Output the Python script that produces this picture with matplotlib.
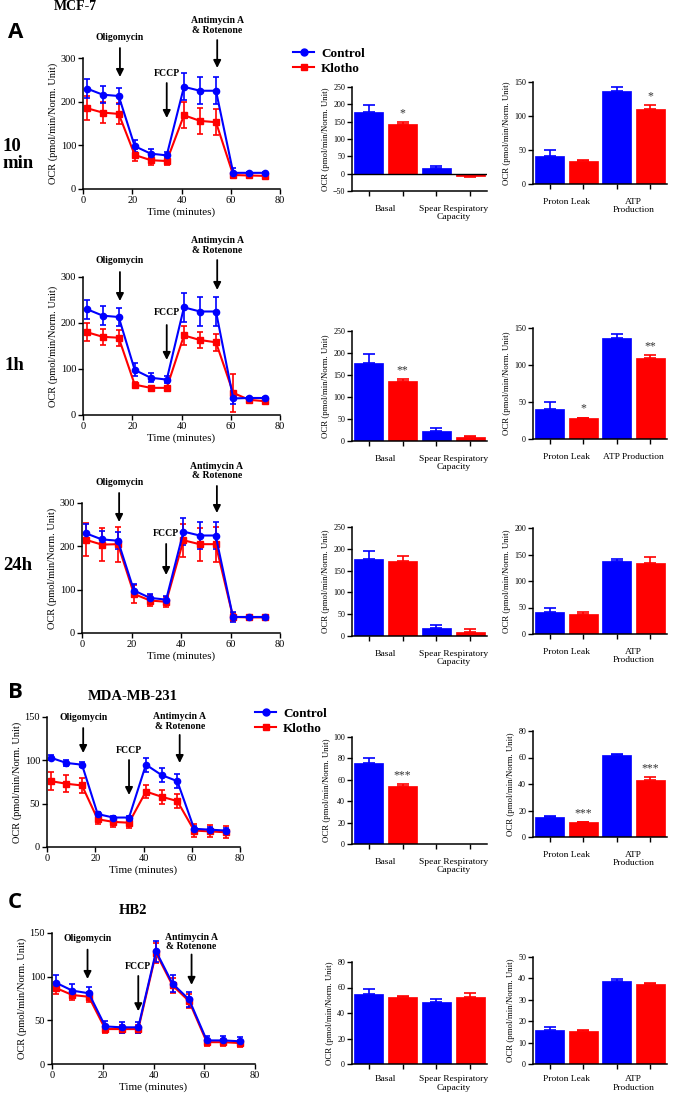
import numpy as np
import matplotlib
matplotlib.use("Agg")
import matplotlib.pyplot as plt
from matplotlib.lines import Line2D

plt.rcParams['font.family'] = ['Liberation Serif', 'DejaVu Serif']

W, H = 685, 1099

# ---- data ----
times = [1.6, 8, 14.5, 21, 27.5, 34, 41, 47.5, 54, 61, 67.5, 74]

# MCF-7 10 min
ctrl_10m = [230, 216, 213, 98, 81, 77, 234, 225, 225, 37, 37, 37]
ctrl_10m_err = [21, 20, 19, 14, 10, 8, 31, 31, 31, 12, 3, 3]
kl_10m = [185, 175, 172, 78, 66, 64, 169, 156, 153, 32, 31, 30]
kl_10m_err = [27, 24, 24, 14, 10, 8, 30, 30, 30, 4, 3, 3]

# MCF-7 1h
ctrl_1h = [230, 216, 213, 98, 81, 77, 234, 225, 225, 36, 37, 37]
ctrl_1h_err = [21, 20, 19, 14, 10, 8, 31, 31, 31, 12, 3, 3]
kl_1h = [180, 170, 168, 66, 59, 59, 173, 163, 158, 48, 33, 30]
kl_1h_err = [20, 18, 17, 6, 4, 5, 20, 18, 18, 42, 3, 3]

# MCF-7 24h
ctrl_24h = [230, 216, 213, 98, 81, 77, 234, 225, 225, 37, 37, 37]
ctrl_24h_err = [21, 20, 19, 14, 10, 8, 31, 31, 31, 12, 3, 3]
kl_24h = [215, 204, 205, 90, 75, 72, 214, 205, 205, 37, 36, 36]
kl_24h_err = [38, 38, 40, 20, 12, 12, 38, 38, 40, 10, 3, 3]

# MDA-MB-231
ctrl_mda = [103, 97, 95, 38, 34, 34, 95, 83, 76, 21, 20, 19]
ctrl_mda_err = [3, 3, 3, 2, 2, 2, 8, 8, 8, 3, 3, 3]
kl_mda = [76, 73, 71, 32, 29, 28, 64, 58, 53, 19, 18, 17]
kl_mda_err = [10, 10, 9, 5, 6, 6, 8, 8, 8, 7, 7, 7]

# HB2
ctrl_hb2 = [93, 84, 81, 43, 42, 42, 129, 92, 74, 27, 27, 26]
ctrl_hb2_err = [9, 8, 7, 6, 6, 6, 12, 10, 9, 5, 5, 5]
kl_hb2 = [87, 79, 77, 40, 40, 40, 127, 90, 72, 25, 25, 24]
kl_hb2_err = [7, 6, 6, 5, 5, 5, 11, 9, 8, 4, 4, 4]

# bar charts: [Basal, Spare respiratory capacity] and [Proton leak, ATP production]
groups_resp = ["Basal", "Spear Respiratory\nCapacity"]
groups_atp = ["Proton Leak", "ATP\nProduction"]
groups_atp_1line = ["Proton Leak", "ATP Production"]

resp_10m_ctrl, resp_10m_ctrl_err = [177, 15], [20, 8]
resp_10m_kl, resp_10m_kl_err = [143, -6], [7, 4]
resp_10m_stars = ["*", ""]
atp_10m_ctrl, atp_10m_ctrl_err = [41, 137], [9, 5]
atp_10m_kl, atp_10m_kl_err = [34, 110], [2, 6]
atp_10m_stars = ["", "*"]

resp_1h_ctrl, resp_1h_ctrl_err = [177, 22], [20, 8]
resp_1h_kl, resp_1h_kl_err = [137, 8], [4, 3]
resp_1h_stars = ["**", ""]
atp_1h_ctrl, atp_1h_ctrl_err = [40, 137], [10, 5]
atp_1h_kl, atp_1h_kl_err = [28, 109], [1, 4]
atp_1h_stars = ["*", "**"]

resp_24h_ctrl, resp_24h_ctrl_err = [177, 19], [18, 7]
resp_24h_kl, resp_24h_kl_err = [171, 9], [12, 8]
resp_24h_stars = ["", ""]
atp_24h_ctrl, atp_24h_ctrl_err = [41, 137], [9, 5]
atp_24h_kl, atp_24h_kl_err = [37, 134], [4, 11]
atp_24h_stars = ["", ""]

resp_mda_ctrl, resp_mda_ctrl_err = [76, 0], [4, 0]
resp_mda_kl, resp_mda_kl_err = [54, 0], [2, 0]
resp_mda_stars = ["***", ""]
atp_mda_ctrl, atp_mda_ctrl_err = [15, 62], [0.6, 1]
atp_mda_kl, atp_mda_kl_err = [11, 43], [0.6, 2]
atp_mda_stars = ["***", "***"]

resp_hb2_ctrl, resp_hb2_ctrl_err = [55, 49], [4, 2]
resp_hb2_kl, resp_hb2_kl_err = [52.5, 52.5], [1, 3]
resp_hb2_stars = ["", ""]
atp_hb2_ctrl, atp_hb2_ctrl_err = [16, 38.7], [1.5, 0.8]
atp_hb2_kl, atp_hb2_kl_err = [15.3, 37.5], [0.4, 0.5]
atp_hb2_stars = ["", ""]

# injection times (minutes)
inj_mcf = [15, 34, 54.5]
inj_mda = [15, 34, 55]
inj_hb2 = [14, 34, 55]

BLUE = (0, 0, 1)
RED = (1, 0, 0)
YLAB = "OCR (pmol/min/Norm. Unit)"

fig = plt.figure(figsize=(W / 100, H / 100), dpi=100)


def px_axes(l, t, r, b):
    return fig.add_axes([l / W, 1 - b / H, (r - l) / W, (b - t) / H])


def style(ax, lab_size, tick_size):
    for s in ("top", "right"):
        ax.spines[s].set_visible(False)
    for s in ("left", "bottom"):
        ax.spines[s].set_linewidth(1.1)
    ax.tick_params(direction="out", length=3.5, width=1, labelsize=tick_size, pad=1.5)
    ax.set_ylabel(YLAB, fontsize=lab_size, labelpad=2)


def seahorse(box, ctrl, ctrl_e, kl, kl_e, ymax, ystep, inj, ann):
    ax = px_axes(*box)
    ax.errorbar(times, kl, yerr=kl_e, color=RED, marker="s", ms=4.5, lw=1.5,
                capsize=2.5, elinewidth=1.2, capthick=1.2)
    ax.errorbar(times, ctrl, yerr=ctrl_e, color=BLUE, marker="o", ms=4.5, lw=1.5,
                capsize=2.5, elinewidth=1.2, capthick=1.2)
    ax.set_xlim(0, 80)
    ax.set_ylim(0, ymax)
    ax.set_xticks([0, 20, 40, 60, 80])
    ax.set_yticks(np.arange(0, ymax + 1, ystep))
    style(ax, 7.5, 7.5)
    ax.set_xlabel("Time (minutes)", fontsize=8, labelpad=2)
    names = ["Oligomycin", "FCCP", "Antimycin A\n& Rotenone"]
    for x, name, (ty, a0, a1) in zip(inj, names, ann):
        ax.annotate("", xy=(x, a1), xytext=(x, a0), xycoords=("data", "axes fraction"),
                    textcoords=("data", "axes fraction"), annotation_clip=False,
                    arrowprops=dict(arrowstyle="-|>", color="black", lw=1.3,
                                    mutation_scale=11, shrinkA=0, shrinkB=0))
        ax.text(x, ty, name, transform=ax.get_xaxis_transform(), ha="center",
                va="center", fontsize=7, fontweight="bold", linespacing=1.05,
                clip_on=False)
    return ax


def bars(box, c, ce, k, ke, groups, ylim, ystep, stars, zero=False, pad=10):
    ax = px_axes(*box)
    xs = np.arange(4)
    vals = [c[0], k[0], c[1], k[1]]
    errs = [ce[0], ke[0], ce[1], ke[1]]
    cols = [BLUE, RED, BLUE, RED]
    ax.bar(xs, vals, width=0.86, color=cols, edgecolor=cols, linewidth=0.5)
    for x, v, e, col in zip(xs, vals, errs, cols):
        if v == 0 and e == 0:
            continue
        yerr = [[e], [0]] if v < 0 else [[0], [e]]
        ax.errorbar([x], [v], yerr=yerr, fmt="none", ecolor=col, elinewidth=1.2,
                    capsize=4.5, capthick=1.2)
    span = ylim[1] - ylim[0]
    for i, st in enumerate(stars):
        if st:
            x = 1 + 2 * i
            ax.text(x, vals[x] + errs[x] + 0.025 * span, st, ha="center", va="bottom",
                    fontsize=8.5, color="#333333")
    if zero:
        ax.axhline(0, color="black", lw=1)
    ax.set_xlim(-0.5, 3.5)
    ax.set_ylim(*ylim)
    ax.set_yticks(np.arange(ylim[0], ylim[1] + 0.1, ystep))
    ax.set_xticks(xs)
    ax.set_xticklabels([""] * 4)
    ax.set_xticks([0.5, 2.5], minor=True)
    ax.set_xticklabels(groups, minor=True, fontsize=6.8, linespacing=1.1)
    style(ax, 6.3, 5.8)
    ax.tick_params(axis="x", which="minor", length=0, pad=pad)
    return ax


ann_10m = [(1.153, 1.076, 0.855), (0.885, 0.809, 0.542), (1.248, 1.137, 0.924)]
ann_1h = [(1.123, 1.036, 0.826), (0.746, 0.652, 0.399), (1.228, 1.123, 0.906)]
ann_24h = [(1.154, 1.077, 0.854), (0.762, 0.685, 0.446), (1.246, 1.131, 0.923)]
ann_mda = [(1.0, 0.915, 0.723), (0.746, 0.669, 0.40), (0.965, 0.862, 0.646)]
ann_hb2 = [(0.955, 0.873, 0.649), (0.746, 0.672, 0.403), (0.933, 0.836, 0.604)]

# MCF-7 rows
seahorse((83, 58, 280, 189), ctrl_10m, ctrl_10m_err, kl_10m, kl_10m_err, 300, 100, inj_mcf, ann_10m)
bars((352, 87, 487, 191), resp_10m_ctrl, resp_10m_ctrl_err, resp_10m_kl, resp_10m_kl_err,
     groups_resp, (-50, 250), 50, resp_10m_stars, zero=True)
bars((533, 82, 667, 184), atp_10m_ctrl, atp_10m_ctrl_err, atp_10m_kl, atp_10m_kl_err,
     groups_atp, (0, 150), 50, atp_10m_stars)

seahorse((83, 277, 280, 415), ctrl_1h, ctrl_1h_err, kl_1h, kl_1h_err, 300, 100, inj_mcf, ann_1h)
bars((352, 331, 487, 441), resp_1h_ctrl, resp_1h_ctrl_err, resp_1h_kl, resp_1h_kl_err,
     groups_resp, (0, 250), 50, resp_1h_stars)
bars((533, 328, 667, 439), atp_1h_ctrl, atp_1h_ctrl_err, atp_1h_kl, atp_1h_kl_err,
     groups_atp_1line, (0, 150), 50, atp_1h_stars)

seahorse((82, 503, 280, 633), ctrl_24h, ctrl_24h_err, kl_24h, kl_24h_err, 300, 100, inj_mcf, ann_24h)
bars((352, 527, 487, 636), resp_24h_ctrl, resp_24h_ctrl_err, resp_24h_kl, resp_24h_kl_err,
     groups_resp, (0, 250), 50, resp_24h_stars)
bars((533, 528, 667, 634), atp_24h_ctrl, atp_24h_ctrl_err, atp_24h_kl, atp_24h_kl_err,
     groups_atp, (0, 200), 50, atp_24h_stars)

# MDA-MB-231
seahorse((47, 717, 240, 847), ctrl_mda, ctrl_mda_err, kl_mda, kl_mda_err, 150, 50, inj_mda, ann_mda)
bars((352, 737, 487, 844), resp_mda_ctrl, resp_mda_ctrl_err, resp_mda_kl, resp_mda_kl_err,
     groups_resp, (0, 100), 20, resp_mda_stars)
bars((533, 731, 667, 837), atp_mda_ctrl, atp_mda_ctrl_err, atp_mda_kl, atp_mda_kl_err,
     groups_atp, (0, 80), 20, atp_mda_stars)

# HB2
seahorse((52, 933, 255, 1064), ctrl_hb2, ctrl_hb2_err, kl_hb2, kl_hb2_err, 150, 50, inj_hb2, ann_hb2)
bars((352, 962, 487, 1064), resp_hb2_ctrl, resp_hb2_ctrl_err, resp_hb2_kl, resp_hb2_kl_err,
     groups_resp, (0, 80), 20, resp_hb2_stars, pad=8)
bars((533, 957, 667, 1064), atp_hb2_ctrl, atp_hb2_ctrl_err, atp_hb2_kl, atp_hb2_kl_err,
     groups_atp, (0, 50), 10, atp_hb2_stars, pad=8)

# legends
handles = [Line2D([], [], color=BLUE, marker="o", ms=5, lw=1.5),
           Line2D([], [], color=RED, marker="s", ms=5, lw=1.5)]
for lx, ly in [(288, 42), (250, 702)]:
    fig.legend(handles, ["Control", "Klotho"], loc="upper left",
               bbox_to_anchor=(lx / W, 1 - ly / H), frameon=False, handlelength=1.6,
               handletextpad=0.5, labelspacing=0.25, borderaxespad=0,
               prop=dict(weight="bold", size=9.5))


def ftext(x, y, s, **kw):
    fig.text(x / W, 1 - y / H, s, va="center", **kw)


ftext(75, 6, "MCF-7", ha="center", fontsize=10, fontweight="bold")
ftext(8, 32, "A", ha="left", fontsize=16, fontweight="bold", family="Open Sans")
ftext(2, 155, "10\nmin", ha="left", fontsize=13.5, fontweight="bold", linespacing=1.0)
ftext(5, 365, "1h", ha="left", fontsize=13.5, fontweight="bold")
ftext(3, 565, "24h", ha="left", fontsize=13.5, fontweight="bold")
ftext(8, 693, "B", ha="left", fontsize=16, fontweight="bold", family="Open Sans")
ftext(133, 697, "MDA-MB-231", ha="center", fontsize=10.5, fontweight="bold")
ftext(8, 903, "C", ha="left", fontsize=16, fontweight="bold", family="Open Sans")
ftext(133, 910, "HB2", ha="center", fontsize=10.5, fontweight="bold")

fig.savefig("out.png", dpi=100)
